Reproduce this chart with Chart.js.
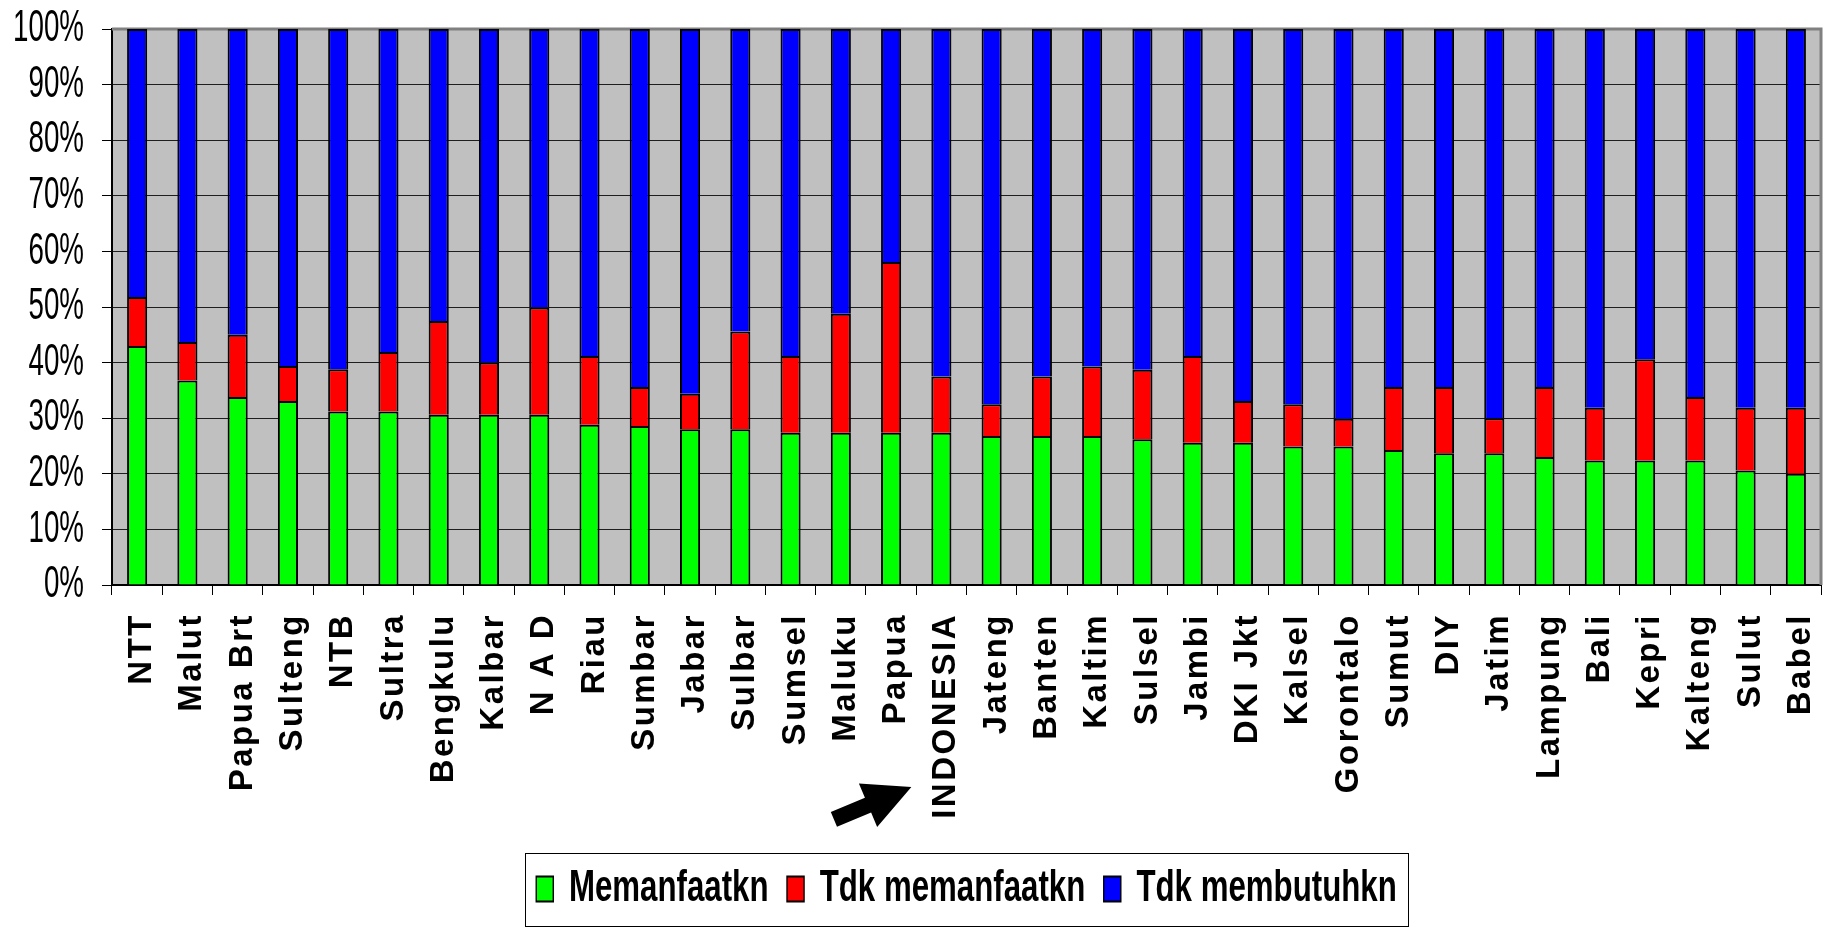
<!DOCTYPE html>
<html>
<head>
<meta charset="utf-8">
<script src="https://cdn.jsdelivr.net/npm/chart.js@4.4.1/dist/chart.umd.min.js"></script>
<style>
  html, body { margin: 0; padding: 0; background: #fff; }
  #wrap { width: 1831px; height: 927px; }
</style>
</head>
<body>
<div id="wrap"><canvas id="chart"></canvas></div>
<script>
// provinces, sorted as in the original
const provinces = ['NTT', 'Malut', 'Papua Brt', 'Sulteng', 'NTB', 'Sultra', 'Bengkulu', 'Kalbar', 'N A D', 'Riau',
  'Sumbar', 'Jabar', 'Sulbar', 'Sumsel', 'Maluku', 'Papua', 'INDONESIA', 'Jateng', 'Banten', 'Kaltim',
  'Sulsel', 'Jambi', 'DKI Jkt', 'Kalsel', 'Gorontalo', 'Sumut', 'DIY', 'Jatim', 'Lampung', 'Bali',
  'Kepri', 'Kalteng', 'Sulut', 'Babel'];

// percent of households
const memanfaatkn = [43.0, 36.8, 33.8, 33.1, 31.2, 31.2, 30.6, 30.6, 30.6, 28.8,
  28.6, 28.0, 28.0, 27.4, 27.4, 27.4, 27.4, 26.8, 26.8, 26.8,
  26.2, 25.6, 25.6, 24.9, 24.9, 24.3, 23.7, 23.7, 23.0, 22.4,
  22.4, 22.4, 20.6, 20.0];
const tdkMemanfaatkn = [8.8, 6.9, 11.2, 6.3, 7.6, 10.7, 16.9, 9.4, 19.3, 12.4,
  7.0, 6.4, 17.6, 13.8, 21.4, 30.7, 10.1, 5.7, 10.7, 12.5,
  12.5, 15.6, 7.5, 7.6, 5.0, 11.3, 11.9, 6.3, 12.6, 9.5,
  18.2, 11.4, 11.3, 11.9];
const tdkMembutuhkn = [48.2, 56.3, 55.0, 60.6, 61.2, 58.1, 52.5, 60.0, 50.1, 58.8,
  64.4, 65.6, 54.4, 58.8, 51.2, 41.9, 62.5, 67.5, 62.5, 60.7,
  61.3, 58.8, 66.9, 67.5, 70.1, 64.4, 64.4, 70.0, 64.4, 68.1,
  59.4, 66.2, 68.1, 68.1];

const seriesNames = ['Memanfaatkn', 'Tdk memanfaatkn', 'Tdk membutuhkn'];
const highlighted = 'INDONESIA';

// the original uses a narrow font; squeeze Liberation Sans horizontally instead
const yLabelSqueeze = 0.63;
const legendSqueeze = 0.71;

// grey plot area + grey top/right frame
const plotFrame = {
  id: 'plotFrame',
  beforeDraw(chart) {
    const {ctx, chartArea: a} = chart;
    ctx.save();
    ctx.fillStyle = '#c0c0c0';
    ctx.fillRect(a.left, a.top, a.right - a.left, a.bottom - a.top);
    ctx.restore();
  },
  beforeDatasetsDraw(chart) {
    const {ctx, chartArea: a} = chart;
    ctx.save();
    ctx.strokeStyle = '#808080';
    ctx.lineWidth = 3;
    ctx.beginPath();
    ctx.moveTo(a.left, a.top);
    ctx.lineTo(a.right, a.top);
    ctx.lineTo(a.right, a.bottom);
    ctx.stroke();
    ctx.restore();
  }
};

function wrapDraw(obj, key, pre) {
  if (obj[key].wrapped) return;
  const base = obj[key];
  const fn = function (area) {
    const ctx = this.ctx;
    ctx.save();
    pre.call(this, ctx);
    base.call(this, area);
    ctx.restore();
  };
  fn.wrapped = true;
  obj[key] = fn;
}

// letter-spaced category labels, squeezed % labels and legend
const textTweaks = {
  id: 'textTweaks',
  beforeDraw(chart) {
    wrapDraw(chart.scales.x, 'drawLabels', function (ctx) {
      ctx.letterSpacing = '2.5px';
    });
    const ys = chart.scales.y;
    ys._computeLabelArea = () => undefined; // no clipping, the labels are squeezed
    wrapDraw(ys, 'drawLabels', function (ctx) {
      const ax = this.right - this.options.grid.tickLength - this.options.ticks.padding;
      ctx.translate(ax, 0);
      ctx.scale(yLabelSqueeze, 1);
      ctx.translate(-ax, 0);
    });
    wrapDraw(chart.legend, 'draw', function (ctx) {
      const cx = (this.left + this.right) / 2;
      ctx.translate(cx, 0);
      ctx.scale(legendSqueeze, 1);
      ctx.translate(-cx, 0);
    });
  }
};

// legend frame and the arrow pointing at INDONESIA
const extras = {
  id: 'extras',
  afterDraw(chart) {
    const ctx = chart.ctx;
    const lg = chart.legend;
    const hb = lg.legendHitBoxes;
    const last = hb[hb.length - 1];
    const cx = (lg.left + lg.right) / 2;
    const sq = x => cx + (x - cx) * legendSqueeze;
    const l = sq(hb[0].left) - 11;
    const r = sq(last.left + last.width) + 12;
    const top = chart.chartArea.bottom + 268;
    ctx.save();
    ctx.strokeStyle = '#000';
    ctx.lineWidth = 1;
    ctx.strokeRect(Math.round(l) + 0.5, Math.round(top) + 0.5, Math.round(r - l), chart.height - Math.round(top) - 1);

    // arrow
    const tipX = chart.scales.x.getPixelForValue(provinces.indexOf(highlighted)) - 30;
    const tipY = chart.chartArea.bottom + 202;
    const ang = Math.atan2(-32.5, 77.5);
    const pts = [[0, 0], [-47, 23.6], [-47, 8], [-84, 8], [-84, -8], [-47, -8], [-47, -23.6]];
    ctx.translate(tipX, tipY);
    ctx.rotate(ang);
    ctx.fillStyle = '#000';
    ctx.beginPath();
    pts.forEach((p, i) => i ? ctx.lineTo(p[0], p[1]) : ctx.moveTo(p[0], p[1]));
    ctx.closePath();
    ctx.fill();
    ctx.restore();
  }
};

const colours = ['#00ff00', '#ff0000', '#0000ff'];
const values = [memanfaatkn, tdkMemanfaatkn, tdkMembutuhkn];

const myChart = new Chart('chart', {
  type: 'bar',
  data: {
    labels: provinces,
    datasets: seriesNames.map((name, i) => ({
      label: name,
      data: values[i],
      backgroundColor: colours[i],
      borderColor: '#000',
      borderWidth: 2,
      barPercentage: 0.4,
      categoryPercentage: 1.0
    }))
  },
  options: {
    responsive: true,
    maintainAspectRatio: false,
    animation: false,
    layout: { padding: { top: 29, right: 10, bottom: 6, left: 0 } },
    plugins: {
      tooltip: { enabled: false },
      legend: {
        position: 'bottom',
        fullSize: false,
        labels: {
          boxWidth: 24,
          boxHeight: 25,
          padding: 26,
          color: '#000',
          font: { family: "'Liberation Sans', Arial, sans-serif", size: 44, weight: 'bold' }
        }
      }
    },
    scales: {
      x: {
        stacked: true,
        afterFit(s) { s.height = 256; s.paddingLeft = 0; s.paddingRight = 0; },
        grid: { display: true, drawOnChartArea: false, drawTicks: true, tickLength: 10, color: '#000', offset: true },
        border: { display: true, color: '#000', width: 2 },
        ticks: {
          autoSkip: false,
          minRotation: 90,
          maxRotation: 90,
          padding: 18,
          labelOffset: 5,
          color: '#000',
          font: { family: "'Liberation Sans', Arial, sans-serif", size: 33, weight: 'bold' }
        }
      },
      y: {
        stacked: true,
        min: 0,
        max: 100,
        afterFit(s) { s.width = 112; s.paddingTop = 0; s.paddingBottom = 0; },
        grid: { color: '#1e1e1e', lineWidth: 1, tickLength: 10, tickColor: '#000' },
        border: { display: true, color: '#000', width: 2 },
        ticks: {
          autoSkip: false,
          stepSize: 10,
          padding: 18,
          color: '#000',
          font: { family: "'Liberation Sans', Arial, sans-serif", size: 44 },
          callback: v => v + '%'
        }
      }
    }
  },
  plugins: [plotFrame, textTweaks, extras]
});
</script>
</body>
</html>
